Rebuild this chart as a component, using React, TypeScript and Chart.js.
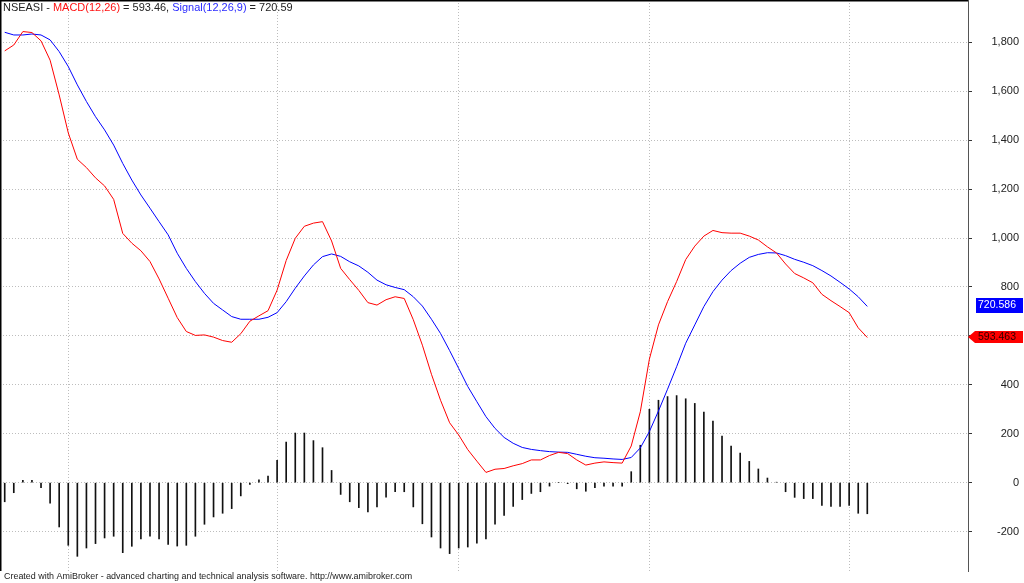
import React, { useEffect, useRef } from 'react';
import { Chart, registerables } from 'chart.js';

Chart.register(...registerables);

const tickerName = 'NSEASI';
const macdLabel = 'MACD(12,26)';
const signalLabel = 'Signal(12,26,9)';
const macdBadgeText = '593.463';
const signalBadgeText = '720.586';
const macdTitleValue = '593.46';
const signalTitleValue = '720.59';
const footerText = 'Created with AmiBroker - advanced charting and technical analysis software. http://www.amibroker.com';

const macdValues = [
  1765, 1789, 1844, 1840, 1806, 1727, 1585, 1430, 1322, 1288,
  1246, 1213, 1158, 1019, 979, 948, 904, 833, 754, 675,
  618, 602, 604, 595, 581, 574, 609, 660, 682, 703,
  787, 908, 999, 1048, 1061, 1067, 988, 876, 830, 786,
  736, 726, 748, 760, 753, 666, 562, 443, 337, 245,
  195, 135, 88, 42, 55, 58, 69, 78, 93, 93,
  111, 124, 119, 93, 72, 80, 85, 82, 80, 150,
  290, 505, 645, 740, 822, 912, 967, 1008, 1031, 1022,
  1020, 1020, 1008, 992, 964, 939, 894, 855, 837, 817,
  770, 744, 720, 695, 633, 593.463,
];

const signalValues = [
  1841, 1830, 1830, 1834, 1830, 1810, 1762, 1701, 1626, 1558,
  1496, 1442, 1380, 1305, 1237, 1176, 1122, 1067, 1013, 938,
  876, 822, 774, 733, 706, 679, 668, 668, 668, 676,
  695, 740, 795, 845, 890, 924, 935, 925, 903, 886,
  860, 828, 809, 798, 789, 760, 722, 668, 610, 540,
  467, 393, 331, 270, 222, 185, 161, 144, 136, 131,
  127, 125, 124, 116, 108, 102, 100, 97, 95, 103,
  142, 209, 293, 382, 474, 570, 645, 720, 781, 828,
  867, 897, 921, 933, 940, 939, 928, 913, 901, 887,
  867, 845, 819, 792, 760, 720.586,
];

const histogramValues = [
  -78, -41, 10, 10, -20, -84, -181, -256, -301, -267,
  -249, -226, -219, -286, -260, -230, -219, -230, -252, -259,
  -256, -219, -170, -140, -125, -106, -54, -7, 12, 27,
  91, 166, 203, 203, 172, 143, 50, -48, -78, -102,
  -119, -99, -59, -37, -37, -99, -168, -222, -267, -290,
  -267, -263, -247, -230, -170, -134, -97, -69, -44, -37,
  -14, 0, -4, -25, -35, -20, -14, -14, -14, 45,
  153, 300, 337, 352, 356, 343, 324, 289, 252, 191,
  150, 121, 87, 56, 19, 2, -37, -60, -65, -65,
  -93, -97, -97, -93, -125, -127,
];

const monthStartBars = [7, 30, 50, 71, 93];
const yTickValues = [-200, 0, 200, 400, 600, 800, 1000, 1200, 1400, 1600, 1800];

const FONT = '"Liberation Sans", Arial, Helvetica, sans-serif';

const decorPlugin = {
  id: 'amiDecor',
  beforeDatasetsDraw(chart: any) {
    const { ctx, chartArea: a, scales } = chart;
    const x = scales.x;
    const y = scales.y;
    ctx.save();
    ctx.strokeStyle = '#bdbdbd';
    ctx.lineWidth = 1;
    ctx.setLineDash([1, 2]);
    for (const v of yTickValues) {
      const py = Math.floor(y.getPixelForValue(v)) + 0.5;
      ctx.beginPath();
      ctx.moveTo(a.left, py);
      ctx.lineTo(a.right, py);
      ctx.stroke();
    }
    for (const b of monthStartBars) {
      const px = Math.floor(x.getPixelForValue(b)) + 0.5;
      ctx.beginPath();
      ctx.moveTo(px, a.top);
      ctx.lineTo(px, a.bottom);
      ctx.stroke();
    }
    ctx.restore();
  },
  afterDraw(chart: any) {
    const { ctx, chartArea: a, scales } = chart;
    const y = scales.y;
    ctx.save();
    ctx.setLineDash([]);
    ctx.strokeStyle = '#000';
    ctx.lineWidth = 1.5;
    ctx.beginPath();
    ctx.moveTo(0.75, a.bottom);
    ctx.lineTo(0.75, 0.75);
    ctx.lineTo(a.right, 0.75);
    ctx.stroke();

    // title
    const parts: [string, string][] = [
      [`${tickerName} - `, '#222'],
      [macdLabel, '#ff1010'],
      [` = ${macdTitleValue}, `, '#222'],
      [signalLabel, '#2a2aff'],
      [` = ${signalTitleValue}`, '#222'],
    ];
    ctx.font = `11px ${FONT}`;
    const tw = ctx.measureText(parts.map((p) => p[0]).join('')).width;
    const tfs = Math.max(9, Math.min(13, (11 * 290) / tw));
    ctx.font = `${tfs.toFixed(2)}px ${FONT}`;
    ctx.textBaseline = 'alphabetic';
    ctx.textAlign = 'left';
    let tx = 3;
    for (const [t, c] of parts) {
      ctx.fillStyle = c;
      ctx.fillText(t, tx, 11);
      tx += ctx.measureText(t).width;
    }

    // badges
    const sy = Math.round(y.getPixelForValue(signalValues[signalValues.length - 1]));
    ctx.fillStyle = '#0000ff';
    ctx.fillRect(976, sy - 8, 47, 15);
    ctx.font = `10.5px ${FONT}`;
    ctx.textAlign = 'center';
    ctx.textBaseline = 'middle';
    ctx.fillStyle = '#fff';
    ctx.fillText(signalBadgeText, 997, sy - 0.5);

    const mc = Math.round(y.getPixelForValue(macdValues[macdValues.length - 1]));
    ctx.fillStyle = '#ff0000';
    ctx.beginPath();
    ctx.moveTo(968, mc);
    ctx.lineTo(975, mc - 6);
    ctx.lineTo(1023, mc - 6);
    ctx.lineTo(1023, mc + 6);
    ctx.lineTo(975, mc + 6);
    ctx.closePath();
    ctx.fill();
    ctx.fillStyle = '#300000';
    ctx.fillText(macdBadgeText, 997, mc + 0.5);

    // footer
    ctx.textAlign = 'left';
    ctx.textBaseline = 'alphabetic';
    ctx.font = `9px ${FONT}`;
    const w = ctx.measureText(footerText).width;
    const fs = Math.max(7, Math.min(11, (9 * 409) / w));
    ctx.font = `${fs.toFixed(2)}px ${FONT}`;
    ctx.fillStyle = '#222';
    ctx.fillText(footerText, 4, 579);
    ctx.restore();
  },
};

export default function App() {
  const ref = useRef<HTMLCanvasElement | null>(null);
  useEffect(() => {
    if (!ref.current) return;
    const chart = new Chart(ref.current, {
      data: {
        datasets: [
          {
            type: 'line',
            label: macdLabel,
            data: macdValues.map((v, i) => ({ x: i, y: v })),
            borderColor: '#ff0000',
            borderWidth: 1,
            pointRadius: 0,
            fill: false,
            tension: 0,
            order: 1,
          },
          {
            type: 'line',
            label: signalLabel,
            data: signalValues.map((v, i) => ({ x: i, y: v })),
            borderColor: '#0000ff',
            borderWidth: 1,
            pointRadius: 0,
            fill: false,
            tension: 0,
            order: 2,
          },
          {
            type: 'bar',
            label: 'Histogram',
            data: histogramValues.map((v, i) => ({ x: i, y: v })),
            backgroundColor: '#111',
            borderWidth: 0,
            barThickness: 1,
            order: 3,
          },
        ] as any,
      },
      options: {
        animation: false,
        responsive: false,
        devicePixelRatio: 1,
        events: [],
        layout: { padding: { left: 0, top: 0, right: 5, bottom: 12 } },
        plugins: { legend: { display: false }, tooltip: { enabled: false }, title: { display: false } },
        scales: {
          x: {
            type: 'linear',
            min: -0.518,
            max: 106.09,
            display: false,
            offset: false,
          },
          y: {
            type: 'linear',
            position: 'right',
            min: -361,
            max: 1973,
            afterBuildTicks: (s: any) => {
              s.ticks = yTickValues.map((v) => ({ value: v }));
            },
            afterFit: (s: any) => {
              s.width = 51;
              s.paddingTop = 0;
              s.paddingBottom = 0;
            },
            grid: {
              drawOnChartArea: false,
              drawTicks: true,
              tickLength: 4,
              tickColor: '#333',
              lineWidth: 1,
            },
            border: { display: true, color: '#555', width: 1 },
            ticks: {
              font: { family: FONT, size: 11 },
              color: '#222',
              padding: 16,
              crossAlign: 'far',
            },
          },
        },
      } as any,
      plugins: [decorPlugin],
    });
    return () => chart.destroy();
  }, []);
  return (
    <div style={{ position: 'absolute', left: 0, top: 0, width: 1024, height: 583, background: '#fff' }}>
      <canvas ref={ref} width={1024} height={583} />
    </div>
  );
}
